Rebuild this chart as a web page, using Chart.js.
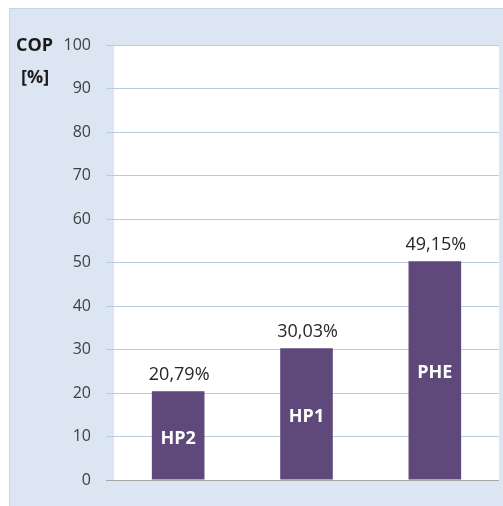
<!DOCTYPE html>
<html>
<head>
<meta charset="utf-8">
<script src="https://cdn.jsdelivr.net/npm/chart.js@4"></script>
<style>
    html, body { margin: 0; padding: 0; background: #ffffff; }
    #wrap { width: 503px; height: 506px; position: relative; }
</style>
</head>
<body>
<div id="wrap"><canvas id="grafico" width="503" height="506"></canvas></div>
<script>
// Datos del grafico
const categorias = ['HP2', 'HP1', 'PHE'];
const valores = [20.4, 30.3, 50.3];
const etiquetas_valor = ['20,79%', '30,03%', '49,15%'];
const ticks_y = [0, 10, 20, 30, 40, 50, 60, 70, 80, 90, 100];

const fuente = "'Open Sans', 'Noto Sans', sans-serif";

// Fondo azul claro y area blanca del grafico
const fondo = {
    id: 'fondo',
    beforeDraw(chart) {
        const ctx = chart.ctx;
        const area = chart.chartArea;
        ctx.save();
        ctx.fillStyle = '#ffffff';
        ctx.fillRect(0, 0, chart.width, chart.height);
        ctx.fillStyle = '#dce6f2';
        ctx.fillRect(9, 8, chart.width - 9, chart.height - 8);
        ctx.strokeStyle = '#c6d6ea';
        ctx.lineWidth = 1;
        ctx.strokeRect(9.5, 8.5, chart.width, chart.height);
        ctx.fillStyle = '#ffffff';
        ctx.fillRect(area.left, area.top, area.right - area.left, area.bottom - area.top);
        ctx.restore();
    }
};

// Titulo del eje y etiquetas de las barras
const textos = {
    id: 'textos',
    afterDatasetsDraw(chart) {
        const ctx = chart.ctx;
        ctx.save();
        ctx.textAlign = 'left';
        ctx.textBaseline = 'middle';
        ctx.fillStyle = '#1a1a1a';
        ctx.font = 'bold 18px ' + fuente;
        ctx.fillText('COP', 16, 46);
        ctx.fillText('[%]', 21, 78);

        const meta = chart.getDatasetMeta(0);
        ctx.textAlign = 'center';
        meta.data.forEach((barra, i) => {
            ctx.font = '18px ' + fuente;
            ctx.fillStyle = '#262626';
            ctx.fillText(etiquetas_valor[i], barra.x + 1, barra.y - 16);
            ctx.font = 'bold 18px ' + fuente;
            ctx.fillStyle = '#ffffff';
            ctx.fillText(categorias[i], barra.x, (barra.y + barra.base) / 2 + 3);
        });
        ctx.restore();
    }
};

const ctx = document.getElementById('grafico').getContext('2d');
new Chart(ctx, {
    type: 'bar',
    data: {
        labels: categorias,
        datasets: [{
            data: valores,
            backgroundColor: '#5f497a',
            barPercentage: 0.41,
            categoryPercentage: 1
        }]
    },
    options: {
        responsive: false,
        animation: false,
        layout: {
            padding: { left: 0, right: 4, top: 45, bottom: 26 }
        },
        plugins: {
            legend: { display: false },
            tooltip: { enabled: false }
        },
        scales: {
            x: {
                display: false
            },
            y: {
                min: 0,
                max: 100,
                afterFit(scale) {
                    scale.width = 114;
                },
                afterBuildTicks(scale) {
                    scale.ticks = ticks_y.map(v => ({ value: v }));
                },
                border: { display: false },
                grid: {
                    color: (c) => c.tick && c.tick.value === 0 ? '#a6a6a6' : '#b9cbe0',
                    tickLength: 8,
                    drawTicks: true
                },
                ticks: {
                    padding: 15,
                    color: '#404040',
                    font: { family: fuente, size: 16 }
                }
            }
        }
    },
    plugins: [fondo, textos]
});
</script>
</body>
</html>
